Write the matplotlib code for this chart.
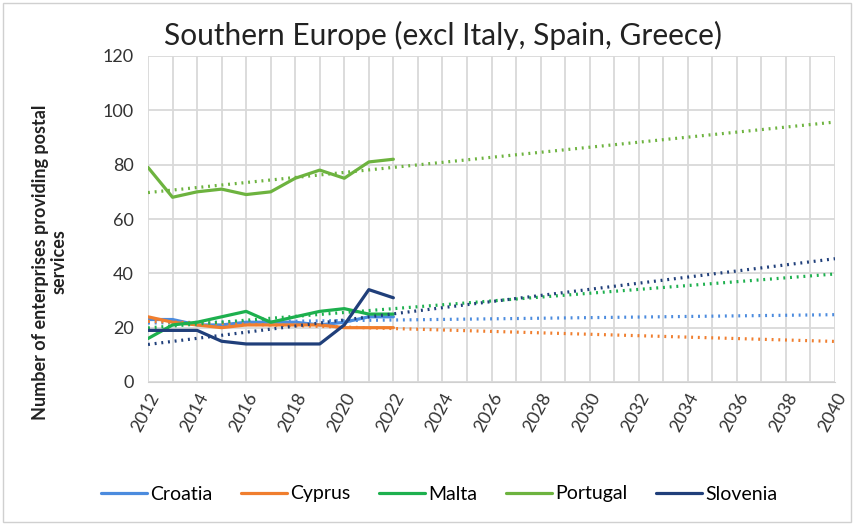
import numpy as np
import matplotlib.pyplot as plt
from matplotlib.patches import Rectangle

years = np.arange(2012, 2023)
trend_years = np.arange(2012, 2041)

croatia = [23, 23, 21, 21, 22, 22, 22, 21, 22, 24, 24]
cyprus = [24, 22, 21, 20, 21, 21, 21, 21, 20, 20, 20]
malta = [16, 21, 22, 24, 26, 22, 24, 26, 27, 25, 25]
portugal = [79, 68, 70, 71, 69, 70, 75, 78, 75, 81, 82]
slovenia = [19, 19, 19, 15, 14, 14, 14, 14, 21, 34, 31]

names = ['Croatia', 'Cyprus', 'Malta', 'Portugal', 'Slovenia']
colors = ['#4B8BDE', '#F07E2E', '#1DB04E', '#6DB33F', '#203F7A']
series = [croatia, cyprus, malta, portugal, slovenia]

plt.rcParams['font.family'] = ['Lato', 'DejaVu Sans']

fig = plt.figure(figsize=(8.54, 5.27), dpi=100)
ax = fig.add_axes([148 / 854, 1 - 382 / 527, (835 - 148) / 854, (382 - 56) / 527])

# light frame round the whole chart
fig.patches.append(Rectangle((0.004, 0.01), 0.992, 0.985, transform=fig.transFigure,
                             fill=False, edgecolor='#d0d0d0', linewidth=1))

for name, vals, col in zip(names, series, colors):
    ax.plot(years, vals, color=col, linewidth=2.3, label=name, solid_capstyle='round')
    # linear trend like the spreadsheet trendline
    k, b = np.polyfit(years, vals, 1)
    ax.plot(trend_years, k * trend_years + b, color=col, linewidth=2.3,
            linestyle=(0, (0.6, 1.5)), dash_capstyle='butt')

ax.set_xlim(2012, 2040)
ax.set_ylim(0, 120)
ax.set_yticks(np.arange(0, 121, 20))
ax.set_xticks(np.arange(2012, 2041, 2))
ax.set_xticks(np.arange(2012, 2041, 1), minor=True)
ax.tick_params(axis='x', which='both', length=0, labelsize=13, pad=6, colors='#333333')
ax.tick_params(axis='y', length=0, labelsize=13, pad=10, colors='#333333')
plt.setp(ax.get_xticklabels(), rotation=62, ha='right', rotation_mode='anchor')
ax.grid(True, which='both', color='#d9d9d9', linewidth=1.3)
ax.set_axisbelow(True)
for s in ax.spines.values():
    s.set_visible(False)
ax.spines['bottom'].set_visible(True)
ax.spines['bottom'].set_color('#d0d0d0')

fig.text(443 / 854, 1 - 35 / 527, 'Southern Europe (excl Italy, Spain, Greece)',
         ha='center', va='center', fontsize=21.5, color='#222222')
fig.text(50 / 854, 1 - 262 / 527, 'Number of enterprises providing postal\nservices',
         ha='center', va='center', rotation=90, fontsize=13, fontweight='bold',
         color='#222222', linespacing=1.1)

fig.legend(loc='center', bbox_to_anchor=(439 / 854, 1 - 494 / 527), ncol=5,
           frameon=False, fontsize=14, handlelength=2.4, handletextpad=0.15,
           columnspacing=1.45)

fig.savefig('out.png', dpi=100)
